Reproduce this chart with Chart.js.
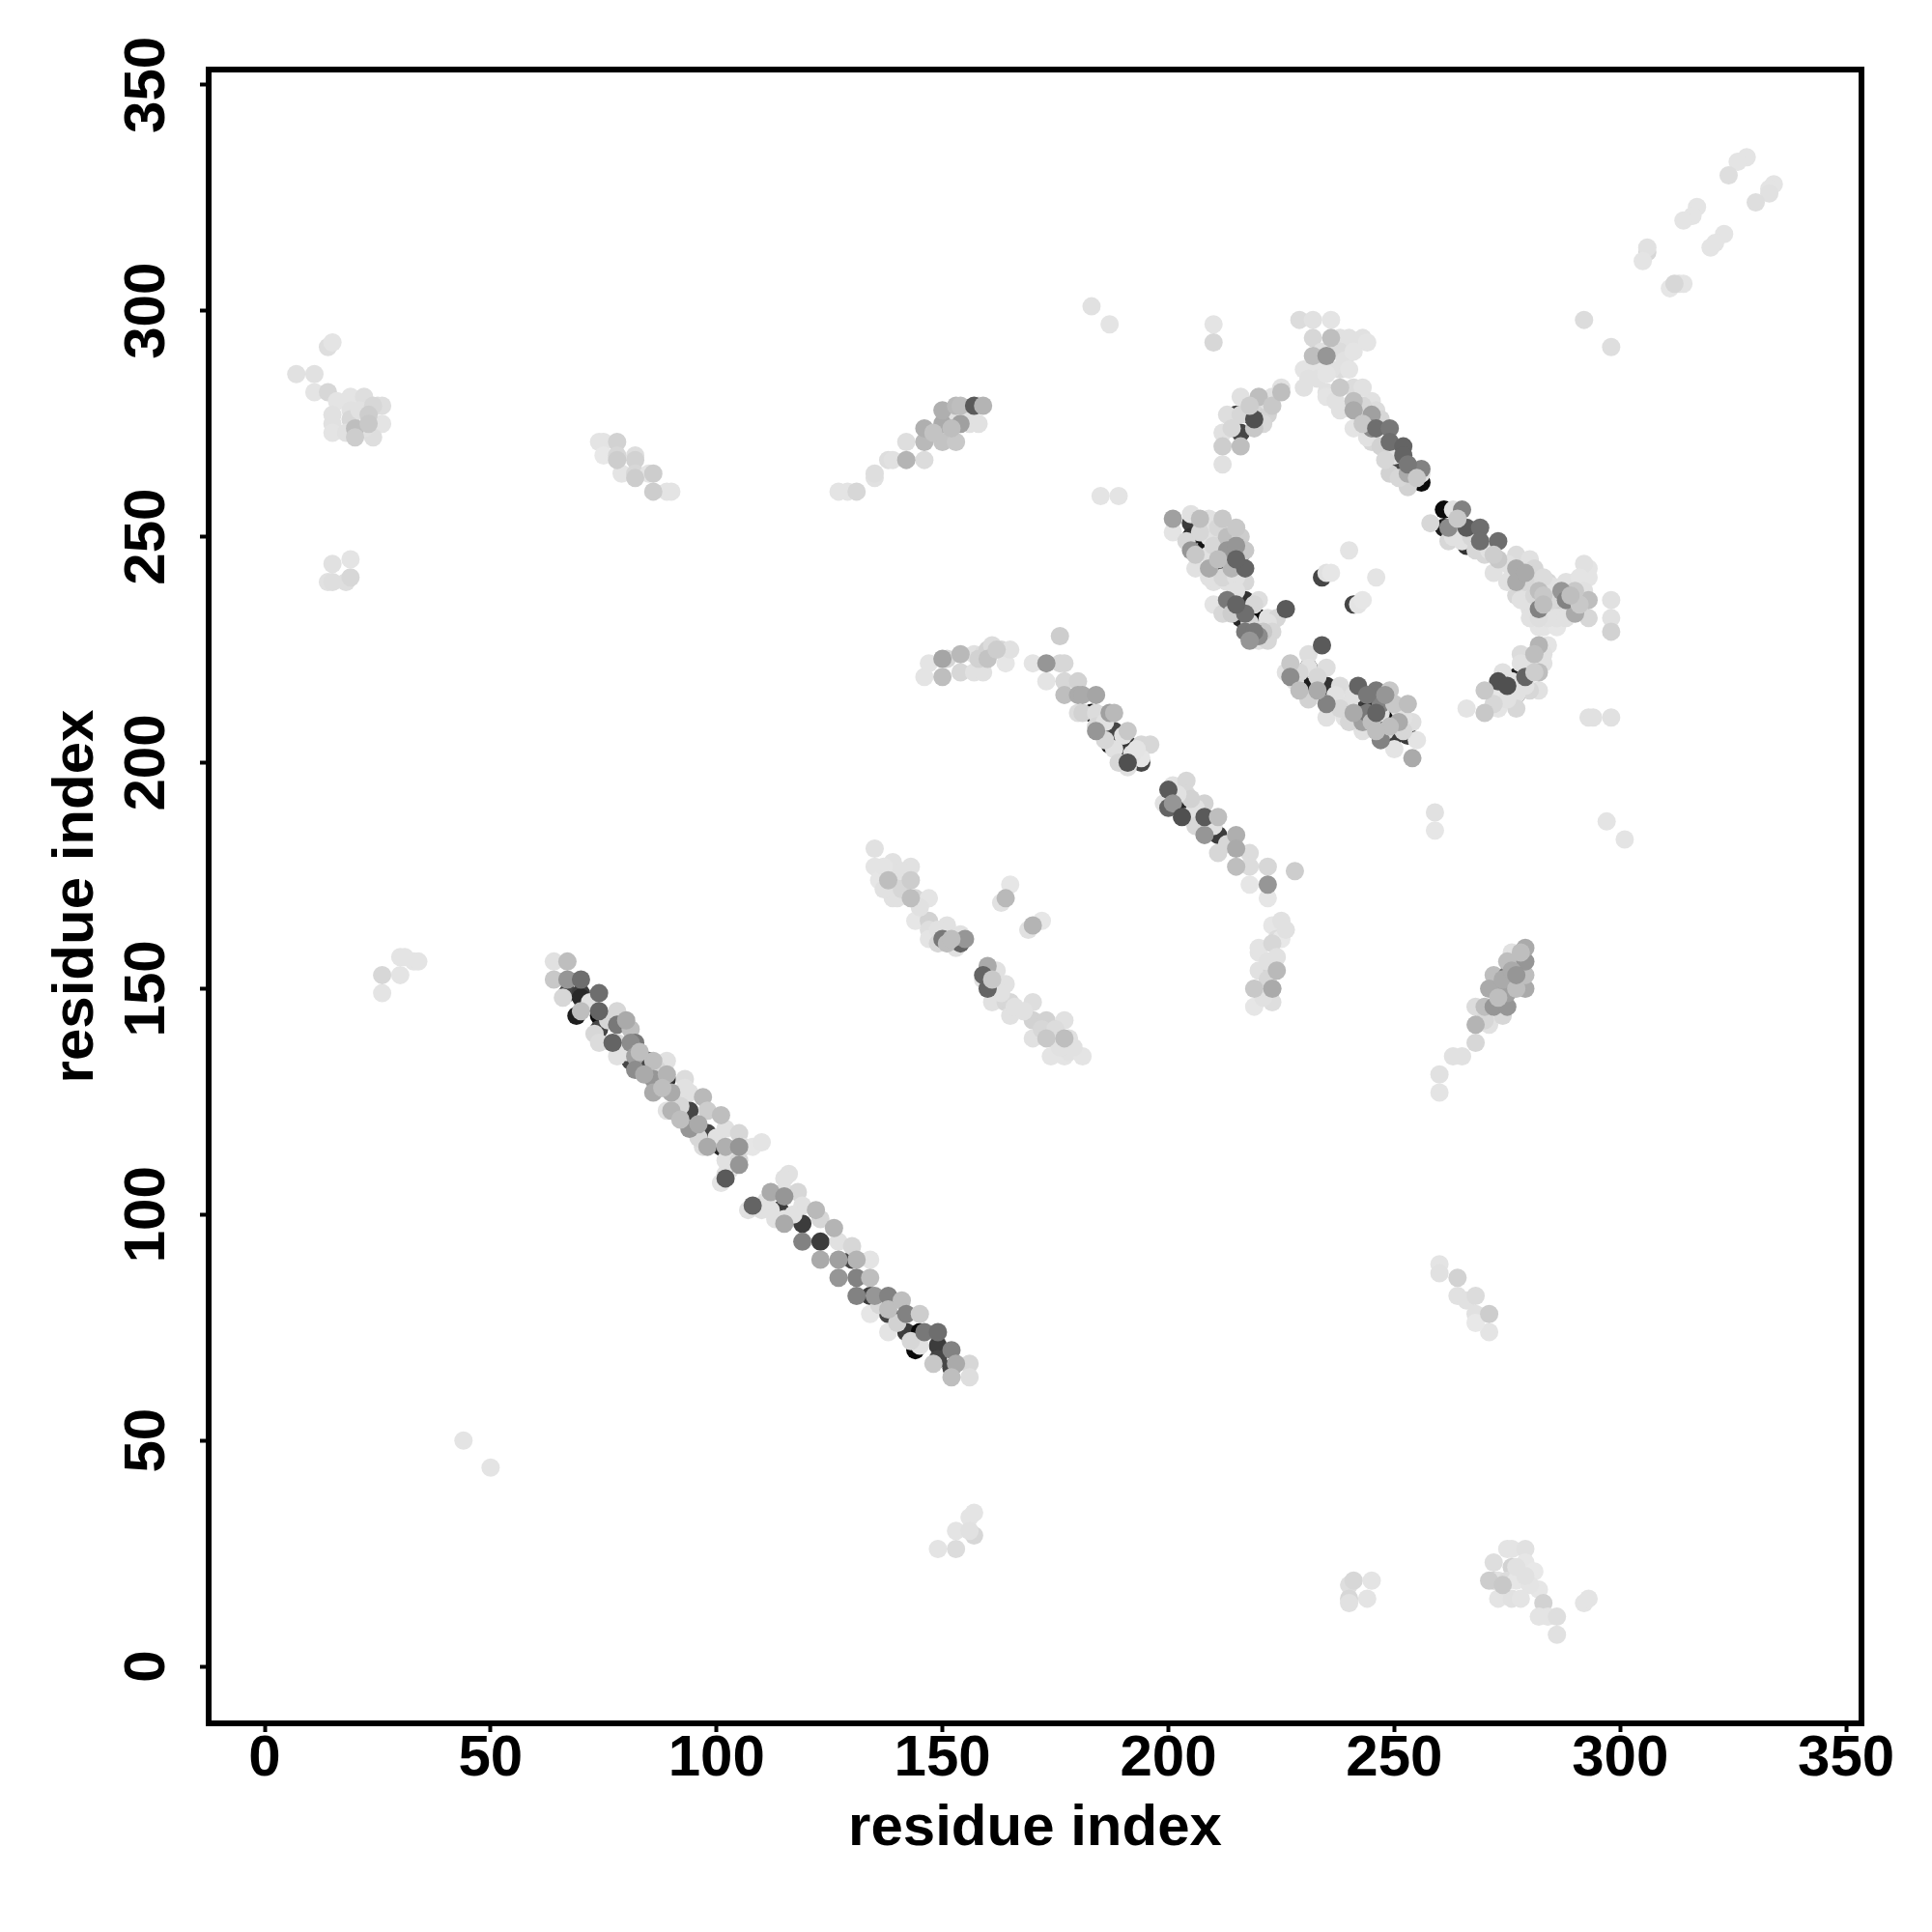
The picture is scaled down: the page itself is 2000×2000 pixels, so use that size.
<!DOCTYPE html>
<html><head><meta charset="utf-8">
<style>html,body{margin:0;padding:0;background:#fff}canvas{display:block}</style>
<script src="https://cdn.jsdelivr.net/npm/chart.js@4"></script>
</head><body><div style="width:2000px;height:2000px"><canvas id="c" width="2000" height="2000"></canvas></div>
<script>
// each contact: [residue i, residue j, grey level]
const tickValues=[0,50,100,150,200,250,300,350];
const axisLabel="residue index";
const topLeft=[[7,286,225],[11,286,225],[11,282,228],[14,292,222],[15,293,228],[14,282,215],[16,280,228],[19,281,228],[19,278,225],[22,281,222],[15,277,225],[15,275,225],[15,273,228],[19,276,215],[20,274,190],[20,272,205],[20,273,225],[23,277,205],[25,279,220],[26,275,228],[26,279,222],[24,272,222],[23,275,200],[18,273,225],[21,278,225],[22,274,225],[24,279,215]];
const lowerLeft=[[14,240,225],[15,240,222],[15,244,225],[18,240,222],[19,241,215],[19,245,228]];
const sideLeft=[[26,149,228],[26,153,215],[30,153,228],[30,157,228],[31,157,228],[33,156,228],[34,156,228]];
const isolated=[[44,50,228],[50,44,228],[183,301,225],[187,297,228],[185,259,228],[189,259,228],[292,298,220],[298,292,222],[259,189,225],[259,185,230],[297,187,228],[301,183,228],[293,210,225],[294,210,225],[298,210,225]];
const topMid=[[74,271,228],[75,271,228],[78,271,210],[75,268,232],[78,268,215],[78,267,205],[82,268,222],[82,267,210],[79,264,228],[82,264,215],[82,263,205],[85,264,228],[86,264,205],[86,260,205],[89,260,228],[90,260,228]];
const rising=[[127,260,228],[129,260,228],[131,260,215],[135,263,225],[135,264,222],[138,267,222],[139,267,225],[142,267,180],[142,271,222],[146,267,220],[146,271,185],[146,274,175],[150,271,195],[153,271,200],[150,275,170],[150,278,175],[152,275,60],[153,275,70],[154,275,160],[156,275,225],[152,277,225],[158,275,225],[153,279,185],[154,279,190],[157,279,90],[158,279,225],[159,279,180],[152,274,190],[155,276,225],[148,273,195],[156,277,225]];
const archLeft=[[146,219,228],[147,222,228],[150,223,165],[151,223,215],[150,219,190],[154,224,185],[154,220,215],[157,220,225],[159,220,225],[157,224,225],[159,224,220],[158,223,210],[160,225,210],[161,226,220],[160,223,195],[162,225,205],[163,225,215],[164,222,230],[165,225,225]];
const strandB=[[176,228,205],[170,222,228],[173,222,150],[176,222,215],[177,222,215],[173,218,228],[177,218,215],[180,218,210],[177,215,190],[180,215,170],[181,215,170],[184,215,165],[180,211,220],[181,211,210],[183,211,20],[184,211,220],[187,211,160],[188,211,185],[184,207,150],[184,208,215],[188,207,70],[191,207,200],[187,204,30],[188,203,225],[190,203,10],[191,204,55],[194,204,215],[196,204,215],[191,200,80],[194,200,70],[194,201,230],[191,199,225],[199,191,225],[200,194,90],[200,190,100],[201,195,225],[201,191,150],[204,196,215],[204,193,215],[204,191,40],[208,191,210],[208,188,90],[203,188,80],[204,188,225],[211,188,190],[208,184,150],[208,185,225],[211,184,60],[211,180,215],[215,184,175],[215,181,170],[215,177,190],[218,180,220],[218,177,220],[218,173,230],[222,177,215],[222,173,150],[222,170,230],[228,176,205],[186,209,225],[190,206,225],[192,202,225],[193,203,228],[186,205,215],[189,200,215],[206,190,225],[206,186,215],[210,186,225],[213,182,215],[205,192,210],[202,193,225]];
const column=[[219,146,230],[219,150,200],[223,147,222],[223,150,170],[223,150,215],[220,154,225],[224,154,185],[223,154,210],[220,158,228],[220,159,228],[223,164,230],[225,165,225],[224,161,220],[225,161,232],[223,160,215],[224,157,225],[222,156,225],[226,163,225],[222,152,215],[221,148,225]];
const midLeft=[[135,181,225],[135,177,228],[136,174,230],[139,178,225],[139,174,215],[138,174,190],[143,177,225],[143,174,205],[139,170,225],[140,170,225],[143,170,190],[144,170,215],[147,170,228],[144,165,230],[147,165,210],[147,163,222],[147,161,228],[151,164,225],[150,161,120],[151,161,225],[154,160,100],[154,162,225],[155,161,150],[153,159,225],[151,160,190],[137,177,228],[141,176,225],[141,172,215],[137,172,225],[145,168,225],[149,163,225],[149,160,215],[152,161,190]];
const midRight=[[163,169,225],[164,170,185],[165,173,230],[169,163,225],[170,164,180],[172,165,230],[160,155,170],[159,153,100],[162,154,225],[159,152,225],[160,150,100],[162,151,215],[164,151,225],[161,147,225],[164,147,215],[165,147,215],[165,144,225],[170,147,222],[170,143,210],[170,139,225],[173,143,210],[177,143,225],[173,139,200],[174,139,215],[177,139,190],[178,139,225],[174,135,228],[177,135,228],[178,136,225],[181,135,228],[161,152,200],[163,149,225],[166,146,225],[172,141,215],[175,141,220],[176,137,225],[179,137,225],[168,145,225]];
const strandA=[[64,156,225],[67,156,190],[64,152,200],[67,152,150],[70,152,110],[67,149,70],[70,149,60],[74,149,110],[66,148,215],[70,148,40],[70,145,190],[69,144,30],[74,145,100],[74,144,10],[78,145,215],[74,141,70],[78,142,120],[81,141,190],[73,140,215],[74,138,220],[82,138,120],[81,138,140],[78,138,220],[77,138,100],[78,135,225],[82,135,160],[82,132,140],[81,134,70],[86,134,190],[85,134,70],[89,134,225],[86,130,150],[89,131,180],[89,130,50],[86,127,170],[90,127,170],[89,123,225],[90,123,180],[93,130,220],[94,127,225],[93,128,225],[97,126,185],[94,123,70],[94,119,150],[98,123,205],[101,122,190],[98,118,70],[97,115,220],[98,115,170],[102,119,225],[105,118,215],[102,115,175],[101,115,40],[105,115,150],[106,115,225],[108,115,230],[110,116,228],[102,112,225],[105,111,150],[105,112,215],[102,108,90],[102,109,225],[101,107,228],[72,147,225],[76,143,215],[80,136,225],[83,136,190],[84,131,170],[88,128,190],[91,126,225],[92,124,215],[96,120,170],[100,117,225],[103,110,225],[80,143,170],[87,132,215],[92,121,190],[96,117,215]];
const strandA2=[[108,102,100],[107,101,225],[112,105,170],[112,105,225],[112,101,225],[110,101,225],[115,105,225],[116,109,225],[115,108,225],[115,104,150],[118,105,215],[114,101,60],[115,99,225],[115,98,170],[119,102,225],[119,98,60],[122,101,185],[123,99,215],[119,94,130],[123,94,60],[126,97,180],[127,94,225],[123,90,170],[130,93,215],[127,90,160],[127,86,150],[131,90,180],[130,90,70],[134,90,228],[131,86,130],[134,86,190],[131,82,130],[134,82,60],[135,82,150],[138,82,130],[134,78,230],[138,79,190],[138,78,70],[141,81,190],[142,78,130],[145,78,205],[138,74,228],[142,74,60],[145,74,10],[146,74,120],[149,74,110],[145,71,225],[144,70,10],[149,71,60],[152,70,130],[149,68,70],[153,67,170],[152,66,70],[156,67,215],[148,67,200],[152,64,190],[156,64,222],[111,103,225],[113,99,225],[117,100,225],[136,80,215],[140,76,210],[143,72,215]];
const archTop=[[229,298,220],[232,298,225],[236,298,228],[232,294,215],[236,294,190],[210,297,228],[210,293,215],[238,294,225],[240,294,225],[243,294,225],[244,293,228],[236,292,225],[238,291,220],[232,290,190],[233,290,225],[235,290,150],[230,287,228],[233,287,228],[238,287,220],[236,287,225],[230,283,225],[233,285,225],[235,282,225],[238,283,200],[241,283,220],[235,281,228],[238,278,225],[241,280,190],[245,280,225],[241,278,170],[246,278,220],[245,277,160],[241,274,228],[245,274,140],[243,275,200],[246,274,110],[249,274,120],[245,271,215],[249,271,110],[252,270,100],[249,268,70],[250,268,225],[249,264,210],[252,268,100],[252,264,40],[253,264,170],[256,264,225],[256,262,10],[256,265,130],[253,261,210],[234,291,225],[235,286,228],[231,285,225],[239,289,225],[241,291,228],[240,287,228],[243,283,225],[237,280,225],[243,279,215],[244,276,220],[247,276,215],[244,272,225],[247,270,210],[251,266,70],[248,267,215],[253,266,120],[251,263,215],[255,263,200]];
const archSide=[[212,266,225],[212,270,205],[216,270,190],[216,273,70],[212,273,225],[213,277,222],[215,277,60],[216,277,215],[219,274,200],[218,277,50],[219,276,80],[216,281,225],[220,281,190],[219,279,215],[222,277,210],[223,279,200],[222,280,225],[223,281,225],[225,282,190],[225,283,225],[214,274,215],[218,279,205],[221,275,215]];
const leftDiamond=[[201,254,160],[201,251,228],[205,253,60],[205,255,225],[205,250,50],[205,247,150],[206,243,225],[207,254,190],[209,254,225],[208,250,20],[208,247,20],[209,250,225],[209,243,170],[209,246,225],[212,254,200],[212,250,50],[213,250,190],[212,246,30],[213,247,150],[216,250,205],[213,243,40],[214,243,180],[216,246,110],[217,247,200],[217,243,100],[213,240,225],[217,240,215],[210,240,225],[210,235,228],[213,236,120],[217,236,50],[214,233,205],[220,236,222],[216,232,40],[217,233,110],[220,232,10],[222,232,225],[224,232,215],[217,229,120],[221,229,200],[220,228,140],[220,227,225],[226,234,90],[204,249,215],[207,251,215],[206,246,200],[210,248,215],[211,252,215],[211,245,190],[215,248,150],[215,245,100],[215,252,200],[209,241,225],[212,241,215],[215,241,225],[215,238,225],[212,233,215],[215,235,100],[218,231,215],[219,235,215],[222,231,225],[219,229,120],[223,229,215],[218,227,150],[222,227,215]];
const centre=[[234,241,70],[235,242,225],[236,242,230],[240,247,228],[246,241,228],[241,235,70],[242,235,228],[243,236,230]];
const lonePair=[[234,226,90]];
const lowerDiamond=[[226,220,225],[227,222,200],[227,219,140],[231,224,222],[231,221,10],[231,221,225],[235,221,222],[228,218,225],[230,217,30],[231,214,210],[235,217,50],[235,213,130],[235,210,225],[239,210,228],[238,217,220],[242,217,100],[246,216,120],[249,216,200],[247,213,130],[240,213,225],[242,213,60],[245,213,40],[243,209,160],[243,207,225],[247,209,20],[247,205,130],[250,213,200],[253,213,190],[250,210,10],[251,209,170],[250,206,60],[254,209,222],[253,206,60],[255,205,228],[250,203,228],[254,201,170],[229,220,215],[229,216,190],[233,219,215],[233,216,170],[237,215,225],[238,212,215],[241,215,225],[244,215,120],[244,211,120],[245,209,190],[247,211,225],[248,215,150],[249,208,190],[251,212,225],[252,210,225],[248,207,215],[252,207,215],[241,211,170],[240,209,215],[246,207,190],[246,211,100]];
const rightStrand=[[258,253,215],[261,256,10],[263,256,225],[265,256,130],[262,252,140],[261,252,30],[266,252,90],[262,249,215],[265,249,225],[266,248,50],[269,252,110],[269,249,110],[273,249,110],[270,246,215],[277,246,220],[280,245,225],[273,245,200],[272,242,225],[277,243,170],[277,240,170],[277,237,215],[279,242,170],[282,241,220],[280,238,225],[282,238,190],[264,254,200],[263,250,225],[267,250,215],[268,247,215],[271,247,225],[272,246,205],[275,244,225],[276,241,225],[275,240,225],[279,240,215],[281,243,215],[284,240,215],[278,236,225]];
const rightBlob=[[280,234,225],[282,230,228],[283,230,228],[286,230,230],[282,234,130],[284,234,220],[287,234,220],[290,233,170],[290,234,225],[293,232,215],[298,232,225],[298,229,210],[298,236,225],[293,236,190],[293,241,228],[293,243,228],[292,244,225],[290,240,225],[290,238,200],[287,238,150],[285,239,225],[283,241,220],[283,237,200],[281,237,215],[286,236,210],[288,236,130],[285,236,215],[286,232,225],[284,232,225],[288,232,225],[288,240,225],[291,241,228],[291,235,200],[292,238,225],[280,232,225],[282,232,222],[289,237,190],[283,235,190]];
const rightArc=[[284,226,228],[282,226,180],[283,224,225],[281,224,190],[278,224,220],[278,222,225],[282,220,190],[277,219,30],[279,219,100],[279,219,222],[274,220,225],[273,218,80],[273,218,220],[282,216,225],[280,216,215],[277,215,40],[277,215,225],[273,215,60],[273,215,230],[270,216,200],[277,212,215],[273,212,228],[270,211,200],[266,212,228],[280,222,225],[281,220,205],[276,218,225],[275,214,225],[279,217,225],[283,222,225],[275,217,80],[272,213,215]];
const risingLow=[[260,131,225],[260,127,228],[263,135,225],[265,135,225],[268,138,215],[268,142,180],[268,146,220],[271,142,225],[270,146,190],[272,146,150],[272,150,160],[272,153,190],[271,150,170],[275,146,150],[275,150,225],[275,153,120],[275,156,190],[275,149,160],[279,150,170],[279,153,190],[279,156,150],[279,159,170],[278,158,190],[277,157,225],[273,148,190],[274,152,170],[276,154,170],[277,150,190],[277,153,150],[276,158,225],[274,144,215],[270,143,215]];
const lowerRight=[[260,89,228],[260,87,225],[264,86,210],[264,82,225],[266,81,225],[268,82,220],[268,78,225],[271,78,205],[271,74,228],[268,76,232]];
const bottomMid=[[149,26,228],[153,26,220],[153,30,228],[156,33,228],[157,34,228],[157,29,215],[156,30,225]];
const bottomSmall=[[240,18,222],[241,19,215],[245,19,228],[240,15,215],[240,14,225],[244,15,228]];
const bottomRight=[[275,26,228],[276,26,228],[279,26,225],[272,23,222],[276,22,210],[279,23,230],[272,19,210],[271,19,205],[273,19,225],[275,19,220],[277,19,230],[281,21,232],[282,17,230],[280,18,228],[273,15,228],[276,15,225],[278,15,228],[283,14,210],[282,11,228],[284,11,228],[286,11,222],[286,7,225],[292,14,228],[293,15,228],[277,22,225],[279,20,225],[274,18,200]];
const topRight=[[328,334,228],[326,333,228],[324,330,222],[334,328,228],[333,327,228],[333,326,225],[330,324,222],[317,323,228],[316,321,228],[314,320,228],[323,317,228],[321,315,228],[320,314,228],[306,313,215],[306,314,225],[305,311,228],[313,306,225],[314,306,228],[311,305,230],[312,306,215]];

const contacts=[topLeft,lowerLeft,sideLeft,isolated,topMid,rising,archLeft,strandB,column,midLeft,midRight,strandA,strandA2,archTop,archSide,leftDiamond,centre,lowerDiamond,rightStrand,rightBlob,rightArc,risingLow,lowerRight,bottomMid,bottomSmall,bottomRight,topRight,lonePair].flat();
// stacking: the darkest first, then the palest, then the mid greys on top
const ordered=[...contacts.filter(c=>c[2]<=70),...contacts.filter(c=>c[2]>=210),...contacts.filter(c=>c[2]>70&&c[2]<210)];

const frame={id:'frame',afterDraw(ch){const a=ch.chartArea,g=ch.ctx;g.save();g.strokeStyle='#000';g.lineWidth=6;g.lineJoin='miter';g.strokeRect(a.left,a.top,a.right-a.left,a.bottom-a.top);g.restore();}};
const font={family:'"Liberation Sans"',size:60,weight:'bold'};
function axis(isX){return{type:'linear',min:isX?-12.4:-12.6,max:353.4,
  afterBuildTicks(s){s.ticks=tickValues.map(v=>({value:v}));},
  afterFit(s){if(isX)s.height=216;else s.width=216;},
  border:{display:false},
  grid:{display:true,drawOnChartArea:false,drawTicks:true,tickLength:9,tickWidth:4,tickColor:'#000'},
  ticks:isX?{color:'#000',font,padding:-8,maxRotation:0,minRotation:0,autoSkip:false,callback:v=>String(v)}
           :{color:'#000',font,padding:3,maxRotation:90,minRotation:90,autoSkip:false,crossAlign:'center',callback:v=>String(v)},
  title:{display:true,text:axisLabel,color:'#000',font,padding:isX?{top:0,bottom:71}:{top:43,bottom:0}}};}
new Chart(document.getElementById('c'),{type:'scatter',plugins:[frame],
 data:{datasets:[{data:ordered.map(c=>({x:c[0],y:c[1]})),pointRadius:9.5,pointHoverRadius:9.5,borderWidth:0,pointBorderWidth:0,
   pointBackgroundColor:ordered.map(c=>`rgb(${c[2]},${c[2]},${c[2]})`)}]},
 options:{responsive:false,animation:false,clip:false,layout:{padding:{left:0,top:72,right:73,bottom:0}},
  plugins:{legend:{display:false},tooltip:{enabled:false}},
  scales:{x:axis(true),y:axis(false)}}});
</script></body></html>
